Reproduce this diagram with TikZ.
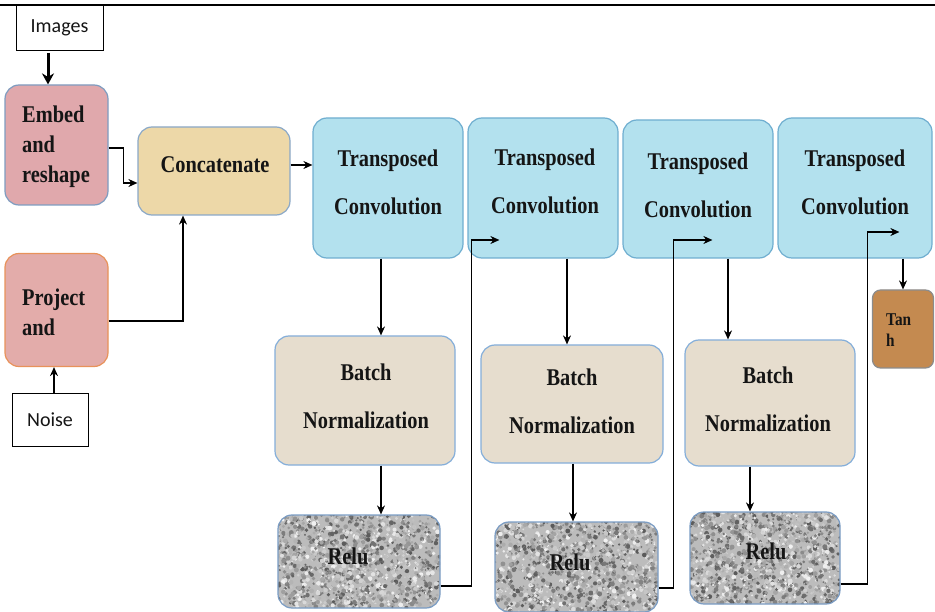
\documentclass[tikz,border=0pt]{standalone}
\usepackage{fontspec}
\setmainfont{Liberation Serif}
\newfontfamily\capfont{Liberation Serif}[FakeStretch=0.85]
\newfontfamily\boxlabelfont{Carlito}
\usetikzlibrary{arrows.meta,calc}

\definecolor{embedfill}{HTML}{E0A8AC}
\definecolor{embedline}{HTML}{7E9CC0}
\definecolor{projfill}{HTML}{E3ACAA}
\definecolor{projline}{HTML}{E8925A}
\definecolor{catfill}{HTML}{EDD8A8}
\definecolor{catline}{HTML}{8AA8C8}
\definecolor{tcfill}{HTML}{B3E1EE}
\definecolor{tcline}{HTML}{6FAED0}
\definecolor{bnfill}{HTML}{E6DDCE}
\definecolor{bnline}{HTML}{84AEDA}
\definecolor{relufill}{HTML}{BCBCBC}
\definecolor{reluline}{HTML}{7A9CC4}
\definecolor{tanhfill}{HTML}{C48A50}
\definecolor{tanhline}{HTML}{8C8C8C}
\definecolor{ink}{HTML}{151515}

\tikzset{
  stage/.style={rounded corners=14pt, line width=1.2pt, inner sep=0pt},
  plainbox/.style={draw=black, line width=0.9pt, fill=white, inner sep=0pt,
    font=\boxlabelfont\fontsize{20}{22}\selectfont, text=ink},
  caption/.style={font=\capfont\bfseries\fontsize{24}{48}\selectfont, text=ink, align=center, inner sep=0pt},
  leftcaption/.style={font=\capfont\bfseries\fontsize{24}{30}\selectfont, text=ink, align=left, inner sep=0pt},
  link/.style={line width=1.3pt, -{Stealth[length=9pt,width=8pt]}},
  thicklink/.style={line width=3pt, -{Stealth[length=11pt,width=12pt]}},
  speckled/.style={path picture={
    \foreach \k in {1,...,1500}{
      \pgfmathsetmacro{\px}{rnd}
      \pgfmathsetmacro{\py}{rnd*100}
      \pgfmathsetmacro{\pr}{0.9+1.6*rnd}
      \pgfmathsetmacro{\pg}{5+60*rnd}
      \fill[black!\pg!white]
        ($(path picture bounding box.south west)!\px!(path picture bounding box.south east)+(0,-\py)$)
        circle[radius=\pr pt];
    }}},
}

\begin{document}
\begin{tikzpicture}[x=1pt,y=-1pt]
\pgfmathsetseed{7}
\useasboundingbox (0,0) rectangle (935,612);

% top rule
\draw[line width=1.2pt] (0,5) -- (935,5);

% input boxes
\node[plainbox, minimum width=87pt, minimum height=45pt] (img) at (59.5,28) {Images};
\node[plainbox, minimum width=76pt, minimum height=53pt] (noise) at (50,419.5) {Noise};

% embedding and projection
\node[stage, draw=embedline, fill=embedfill, minimum width=103pt, minimum height=120pt] (embed) at (56.5,145) {};
\node[leftcaption, anchor=west] (embedt) at (22,147) {Embed\\and\\reshape};
\node[stage, draw=projline, fill=projfill, minimum width=103pt, minimum height=113pt] (proj) at (56.5,310) {};
\node[leftcaption, anchor=west] (projt) at (22,312) {Project\\and};

% concatenation
\node[stage, draw=catline, fill=catfill, minimum width=152pt, minimum height=88pt] (cat) at (214,171) {};
\node[caption] (catt) at (215,165) {Concatenate};

% transposed convolutions
\node[stage, draw=tcline, fill=tcfill, minimum width=150pt, minimum height=140pt] (tc1) at (388,188) {};
\node[stage, draw=tcline, fill=tcfill, minimum width=150pt, minimum height=140pt] (tc2) at (543,188) {};
\node[stage, draw=tcline, fill=tcfill, minimum width=150pt, minimum height=138pt] (tc3) at (698,189) {};
\node[stage, draw=tcline, fill=tcfill, minimum width=154pt, minimum height=140pt] (tc4) at (855,188) {};
\node[caption] (tc1t) at (388,182.5) {Transposed\\Convolution};
\node[caption] (tc2t) at (545,181.5) {Transposed\\Convolution};
\node[caption] (tc3t) at (698,185.5) {Transposed\\Convolution};
\node[caption] (tc4t) at (855,182.5) {Transposed\\Convolution};

% batch normalization
\node[stage, draw=bnline, fill=bnfill, minimum width=180pt, minimum height=129pt] (bn1) at (365,400.5) {};
\node[stage, draw=bnline, fill=bnfill, minimum width=182pt, minimum height=118pt] (bn2) at (572,404) {};
\node[stage, draw=bnline, fill=bnfill, minimum width=170pt, minimum height=126pt] (bn3) at (770,403) {};
\node[caption] (bn1t) at (366,396) {Batch\\Normalization};
\node[caption] (bn2t) at (572,401) {Batch\\Normalization};
\node[caption] (bn3t) at (768,399) {Batch\\Normalization};

% activations
\node[stage, draw=reluline, fill=relufill, speckled, minimum width=162pt, minimum height=93pt] (relu1) at (359,561.5) {};
\node[stage, draw=reluline, fill=relufill, speckled, minimum width=163pt, minimum height=90pt] (relu2) at (576.5,567) {};
\node[stage, draw=reluline, fill=relufill, speckled, minimum width=150pt, minimum height=92pt] (relu3) at (765,558) {};
\node[caption] (relu1t) at (348,556) {Relu};
\node[caption] (relu2t) at (570,562) {Relu};
\node[caption] (relu3t) at (766,551) {Relu};

\node[stage, rounded corners=8pt, draw=tanhline, fill=tanhfill, minimum width=61pt, minimum height=78pt] (tanh) at (903,329) {};
\node[font=\capfont\bfseries\fontsize{18}{21}\selectfont, text=ink, align=left, inner sep=0pt, anchor=west] (tanht) at (886,330) {Tan\\h};

% connectors
\draw[thicklink] ([xshift=-11.5pt,yshift=-2pt]img.south) -- ([xshift=-11.5pt]img.south |- embed.north);
\draw[link] ([yshift=-3pt]embed.east) -- ++(15,0) |- ([yshift=-12pt]cat.west);
\draw[link] ([xshift=4pt]noise.north) -- ([xshift=4pt]noise.north |- proj.south);
\draw[link] ([yshift=-11pt]proj.east) -| ([xshift=-31pt]cat.south);
\draw[link] ([yshift=6pt]cat.east) -- ([yshift=6pt]cat.east -| tc1.west);

\draw[link] ([xshift=-7pt]tc1.south) -- ([xshift=-7pt]tc1.south |- bn1.north);
\draw[link] ([xshift=16pt]bn1.south) -- ([xshift=16pt]bn1.south |- relu1.north);
\draw[link] ([yshift=-24.5pt]relu1.east) -- ++(31,0) |- ([xshift=32pt,yshift=-52pt]tc2.west);

\draw[link] ([xshift=24pt]tc2.south) -- ([xshift=24pt]tc2.south |- bn2.north);
\draw[link] ([xshift=1pt]bn2.south) -- ([xshift=1pt]bn2.south |- relu2.north);
\draw[link] ([yshift=-21pt]relu2.east) -- ++(15,0) |- ([xshift=90pt,yshift=-51pt]tc3.west);

\draw[link] ([xshift=30pt]tc3.south) -- ([xshift=30pt]tc3.south |- bn3.north);
\draw[link] ([xshift=-20pt]bn3.south) -- ([xshift=-20pt]bn3.south |- relu3.north);
\draw[link] ([yshift=-26pt]relu3.east) -- ++(27,0) |- ([xshift=122pt,yshift=-44pt]tc4.west);

\draw[link] ([xshift=48pt]tc4.south) -- ([xshift=48pt]tc4.south |- tanh.north);
\end{tikzpicture}
\end{document}
